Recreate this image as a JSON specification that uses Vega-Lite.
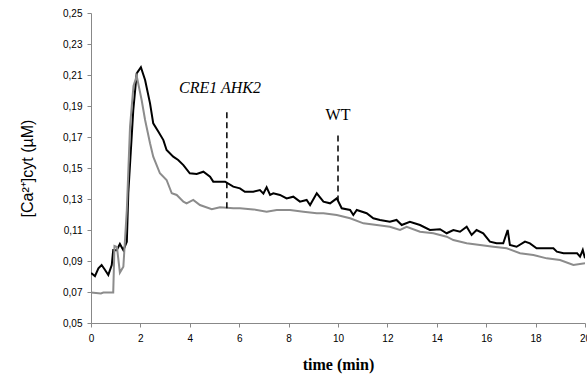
{
  "$schema": "https://vega.github.io/schema/vega-lite/v6.json",
  "width": 494,
  "height": 310,
  "autosize": {"type": "none"},
  "padding": {"left": 91, "top": 13, "right": 2, "bottom": 58},
  "background": "white",
  "config": {"view": {"stroke": null}},
  "datasets": {
    "lines": [
      {"s": "black", "t": 0.0, "v": 0.082}, {"s": "black", "t": 0.03, "v": 0.082}, {"s": "black", "t": 0.16, "v": 0.0803}, {"s": "black", "t": 0.3, "v": 0.0853}, {"s": "black", "t": 0.43, "v": 0.0874}, {"s": "black", "t": 0.57, "v": 0.0842}, {"s": "black", "t": 0.7, "v": 0.081}, {"s": "black", "t": 0.84, "v": 0.0874}, {"s": "black", "t": 0.9, "v": 0.0971}, {"s": "black", "t": 1.04, "v": 0.097}, {"s": "black", "t": 1.17, "v": 0.101}, {"s": "black", "t": 1.31, "v": 0.097}, {"s": "black", "t": 1.45, "v": 0.1024}, {"s": "black", "t": 1.51, "v": 0.1337}, {"s": "black", "t": 1.71, "v": 0.187}, {"s": "black", "t": 1.85, "v": 0.211}, {"s": "black", "t": 2.02, "v": 0.215}, {"s": "black", "t": 2.19, "v": 0.2068}, {"s": "black", "t": 2.39, "v": 0.1917}, {"s": "black", "t": 2.52, "v": 0.1788}, {"s": "black", "t": 2.73, "v": 0.1734}, {"s": "black", "t": 2.93, "v": 0.168}, {"s": "black", "t": 3.06, "v": 0.1616}, {"s": "black", "t": 3.33, "v": 0.1573}, {"s": "black", "t": 3.53, "v": 0.1552}, {"s": "black", "t": 3.74, "v": 0.1519}, {"s": "black", "t": 4.0, "v": 0.1466}, {"s": "black", "t": 4.28, "v": 0.1461}, {"s": "black", "t": 4.55, "v": 0.1476}, {"s": "black", "t": 4.82, "v": 0.1444}, {"s": "black", "t": 4.95, "v": 0.1412}, {"s": "black", "t": 5.43, "v": 0.1412}, {"s": "black", "t": 5.76, "v": 0.138}, {"s": "black", "t": 6.03, "v": 0.1369}, {"s": "black", "t": 6.23, "v": 0.1347}, {"s": "black", "t": 6.57, "v": 0.1347}, {"s": "black", "t": 6.84, "v": 0.1358}, {"s": "black", "t": 6.98, "v": 0.1335}, {"s": "black", "t": 7.11, "v": 0.1375}, {"s": "black", "t": 7.25, "v": 0.1326}, {"s": "black", "t": 7.38, "v": 0.1337}, {"s": "black", "t": 7.65, "v": 0.1326}, {"s": "black", "t": 7.92, "v": 0.1304}, {"s": "black", "t": 8.19, "v": 0.1315}, {"s": "black", "t": 8.46, "v": 0.1283}, {"s": "black", "t": 8.73, "v": 0.1294}, {"s": "black", "t": 8.87, "v": 0.1261}, {"s": "black", "t": 9.14, "v": 0.1337}, {"s": "black", "t": 9.41, "v": 0.1283}, {"s": "black", "t": 9.68, "v": 0.1272}, {"s": "black", "t": 9.95, "v": 0.1304}, {"s": "black", "t": 10.15, "v": 0.124}, {"s": "black", "t": 10.49, "v": 0.1229}, {"s": "black", "t": 10.62, "v": 0.1197}, {"s": "black", "t": 10.76, "v": 0.1229}, {"s": "black", "t": 11.16, "v": 0.1208}, {"s": "black", "t": 11.43, "v": 0.1176}, {"s": "black", "t": 11.7, "v": 0.1165}, {"s": "black", "t": 12.1, "v": 0.1153}, {"s": "black", "t": 12.37, "v": 0.1165}, {"s": "black", "t": 12.58, "v": 0.1132}, {"s": "black", "t": 12.91, "v": 0.1153}, {"s": "black", "t": 13.32, "v": 0.1132}, {"s": "black", "t": 13.72, "v": 0.11}, {"s": "black", "t": 14.13, "v": 0.1105}, {"s": "black", "t": 14.4, "v": 0.1079}, {"s": "black", "t": 14.67, "v": 0.11}, {"s": "black", "t": 14.94, "v": 0.1089}, {"s": "black", "t": 15.21, "v": 0.1121}, {"s": "black", "t": 15.41, "v": 0.1068}, {"s": "black", "t": 15.61, "v": 0.11}, {"s": "black", "t": 15.88, "v": 0.1079}, {"s": "black", "t": 16.15, "v": 0.1025}, {"s": "black", "t": 16.42, "v": 0.1014}, {"s": "black", "t": 16.69, "v": 0.1014}, {"s": "black", "t": 16.87, "v": 0.11}, {"s": "black", "t": 16.96, "v": 0.1003}, {"s": "black", "t": 17.23, "v": 0.0992}, {"s": "black", "t": 17.57, "v": 0.1025}, {"s": "black", "t": 17.77, "v": 0.1014}, {"s": "black", "t": 18.04, "v": 0.0982}, {"s": "black", "t": 18.72, "v": 0.0982}, {"s": "black", "t": 18.86, "v": 0.096}, {"s": "black", "t": 19.13, "v": 0.095}, {"s": "black", "t": 19.68, "v": 0.095}, {"s": "black", "t": 19.8, "v": 0.0928}, {"s": "black", "t": 19.91, "v": 0.0971}, {"s": "black", "t": 20.0, "v": 0.0917},
      {"s": "gray", "t": 0.0, "v": 0.0696}, {"s": "gray", "t": 0.4, "v": 0.069}, {"s": "gray", "t": 0.5, "v": 0.0696}, {"s": "gray", "t": 0.9, "v": 0.0696}, {"s": "gray", "t": 0.95, "v": 0.0997}, {"s": "gray", "t": 1.05, "v": 0.099}, {"s": "gray", "t": 1.17, "v": 0.0825}, {"s": "gray", "t": 1.31, "v": 0.0863}, {"s": "gray", "t": 1.45, "v": 0.1229}, {"s": "gray", "t": 1.58, "v": 0.1767}, {"s": "gray", "t": 1.72, "v": 0.203}, {"s": "gray", "t": 1.85, "v": 0.2094}, {"s": "gray", "t": 2.05, "v": 0.1939}, {"s": "gray", "t": 2.19, "v": 0.181}, {"s": "gray", "t": 2.39, "v": 0.166}, {"s": "gray", "t": 2.52, "v": 0.1573}, {"s": "gray", "t": 2.79, "v": 0.1466}, {"s": "gray", "t": 3.06, "v": 0.1423}, {"s": "gray", "t": 3.27, "v": 0.1337}, {"s": "gray", "t": 3.47, "v": 0.1326}, {"s": "gray", "t": 3.74, "v": 0.1283}, {"s": "gray", "t": 3.87, "v": 0.1272}, {"s": "gray", "t": 4.14, "v": 0.1294}, {"s": "gray", "t": 4.41, "v": 0.1261}, {"s": "gray", "t": 4.89, "v": 0.1234}, {"s": "gray", "t": 5.22, "v": 0.1247}, {"s": "gray", "t": 5.76, "v": 0.124}, {"s": "gray", "t": 6.03, "v": 0.124}, {"s": "gray", "t": 6.57, "v": 0.1233}, {"s": "gray", "t": 7.11, "v": 0.1218}, {"s": "gray", "t": 7.52, "v": 0.1229}, {"s": "gray", "t": 8.06, "v": 0.1229}, {"s": "gray", "t": 8.6, "v": 0.1218}, {"s": "gray", "t": 9.14, "v": 0.1208}, {"s": "gray", "t": 9.41, "v": 0.1208}, {"s": "gray", "t": 9.95, "v": 0.1197}, {"s": "gray", "t": 10.49, "v": 0.1176}, {"s": "gray", "t": 11.03, "v": 0.1143}, {"s": "gray", "t": 11.57, "v": 0.1132}, {"s": "gray", "t": 12.1, "v": 0.1121}, {"s": "gray", "t": 12.51, "v": 0.11}, {"s": "gray", "t": 12.78, "v": 0.1121}, {"s": "gray", "t": 13.32, "v": 0.1089}, {"s": "gray", "t": 13.86, "v": 0.1079}, {"s": "gray", "t": 14.4, "v": 0.1057}, {"s": "gray", "t": 14.67, "v": 0.1035}, {"s": "gray", "t": 15.21, "v": 0.1014}, {"s": "gray", "t": 15.75, "v": 0.1003}, {"s": "gray", "t": 16.29, "v": 0.0992}, {"s": "gray", "t": 16.83, "v": 0.0982}, {"s": "gray", "t": 17.37, "v": 0.095}, {"s": "gray", "t": 17.91, "v": 0.0939}, {"s": "gray", "t": 18.45, "v": 0.0917}, {"s": "gray", "t": 18.99, "v": 0.0906}, {"s": "gray", "t": 19.53, "v": 0.0874}, {"s": "gray", "t": 20.0, "v": 0.0885}
    ],
    "marks": [
      {"t": 5.5, "y1": 0.186, "y2": 0.124},
      {"t": 10.0, "y1": 0.171, "y2": 0.129}
    ],
    "labels_italic": [
      {"label": "CRE1 AHK2", "lt": 5.22, "lv": 0.2016}
    ],
    "labels_plain": [
      {"label": "WT", "lt": 10.0, "lv": 0.184}
    ]
  },
  "layer": [
    {
      "data": {"name": "lines"},
      "mark": {"type": "line", "strokeWidth": 2, "clip": true},
      "encoding": {
        "x": {
          "field": "t", "type": "quantitative",
          "scale": {"domain": [0, 20], "nice": false},
          "axis": {
            "values": [0, 2, 4, 6, 8, 10, 12, 14, 16, 18, 20],
            "tickCount": 11,
            "title": "time (min)",
            "titleFont": "Liberation Serif", "titleFontSize": 16, "titleFontWeight": "bold", "titleColor": "black", "titlePadding": 13,
            "labelFont": "Liberation Sans", "labelFontSize": 10, "labelColor": "black", "labelPadding": 6, "labelOverlap": false,
            "domainColor": "#888888", "tickColor": "#888888", "tickSize": 4, "grid": false, "labelFlush": false
          }
        },
        "y": {
          "field": "v", "type": "quantitative",
          "scale": {"domain": [0.05, 0.25], "nice": false, "zero": false},
          "axis": {
            "values": [0.05, 0.07, 0.09, 0.11, 0.13, 0.15, 0.17, 0.19, 0.21, 0.23, 0.25],
            "tickCount": 11,
            "format": ".2f",
            "labelExpr": "replace(datum.label, '.', ',')",
            "title": "[Ca²⁺]cyt (µM)",
            "titleFont": "Liberation Sans", "titleFontSize": 16, "titleFontWeight": "normal", "titleColor": "black", "titlePadding": 27,
            "labelFont": "Liberation Sans", "labelFontSize": 10, "labelColor": "black", "labelPadding": 5, "labelOverlap": false,
            "domainColor": "#888888", "tickColor": "#888888", "tickSize": 4, "grid": false
          }
        },
        "color": {"field": "s", "type": "nominal", "scale": {"domain": ["black", "gray"], "range": ["#000000", "#8c8c8c"]}, "legend": null},
        "order": {"field": "t", "type": "quantitative"}
      }
    },
    {
      "data": {"name": "marks"},
      "mark": {"type": "rule", "strokeDash": [6, 4], "strokeWidth": 1.5, "color": "black"},
      "encoding": {
        "x": {"field": "t", "type": "quantitative"},
        "y": {"field": "y1", "type": "quantitative"},
        "y2": {"field": "y2"}
      }
    },
    {
      "data": {"name": "labels_italic"},
      "mark": {"type": "text", "font": "Liberation Serif", "fontSize": 16, "fontStyle": "italic", "color": "black", "align": "center", "baseline": "middle"},
      "encoding": {
        "x": {"field": "lt", "type": "quantitative"},
        "y": {"field": "lv", "type": "quantitative"},
        "text": {"field": "label"}
      }
    },
    {
      "data": {"name": "labels_plain"},
      "mark": {"type": "text", "font": "Liberation Serif", "fontSize": 16, "color": "black", "align": "center", "baseline": "middle"},
      "encoding": {
        "x": {"field": "lt", "type": "quantitative"},
        "y": {"field": "lv", "type": "quantitative"},
        "text": {"field": "label"}
      }
    }
  ]
}
